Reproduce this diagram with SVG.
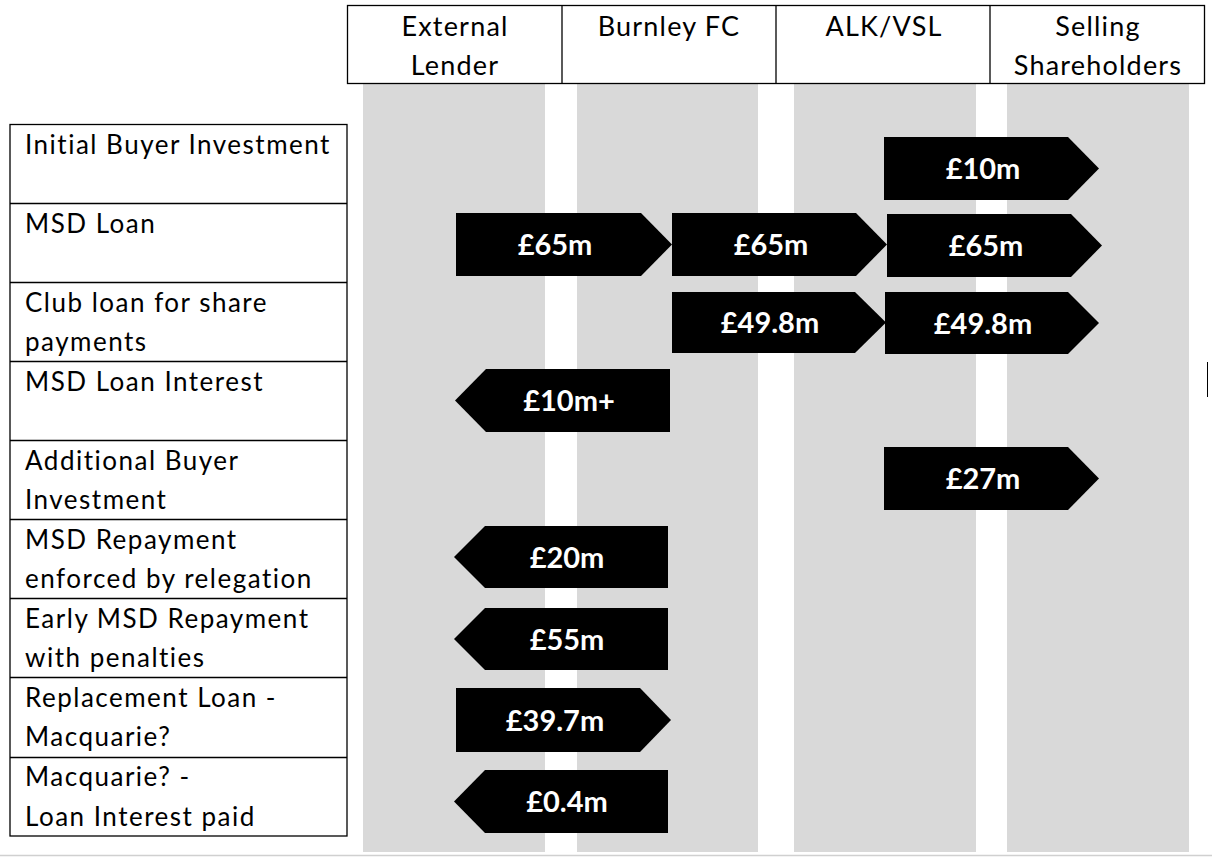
<svg xmlns="http://www.w3.org/2000/svg" width="1212" height="858" viewBox="0 0 1212 858">
<style>
.lane{fill:#d9d9d9}
.box{fill:#fff;stroke:#000;stroke-width:1.3}
.hdr{font-family:Lato,"Open Sans","Liberation Sans",sans-serif;font-size:27px;letter-spacing:1.2px;fill:#000;text-anchor:middle}
.lbl{font-family:Lato,"Open Sans","Liberation Sans",sans-serif;font-size:26px;letter-spacing:1.5px;fill:#000}
.arr{fill:#000}
.amt{font-family:Lato,"Liberation Sans",sans-serif;font-size:29px;font-weight:bold;fill:#fff;text-anchor:middle}
</style>
<rect width="1212" height="858" fill="#fff"/>
<g id="lanes">
<rect class="lane" x="363" y="84" width="182" height="768"/>
<rect class="lane" x="577" y="84" width="181" height="768"/>
<rect class="lane" x="794" y="84" width="182" height="768"/>
<rect class="lane" x="1007" y="84" width="182" height="768"/>
</g>
<g id="header">
<rect class="box" x="347.5" y="5.5" width="857" height="78"/>
<line x1="562" y1="5.5" x2="562" y2="83.5" stroke="#000" stroke-width="1.3"/>
<line x1="776" y1="5.5" x2="776" y2="83.5" stroke="#000" stroke-width="1.3"/>
<line x1="990" y1="5.5" x2="990" y2="83.5" stroke="#000" stroke-width="1.3"/>
<g id="h-lender"><text class="hdr" x="455" y="36">External</text><text class="hdr" x="455" y="75">Lender</text></g>
<g id="h-burnley"><text class="hdr" x="669" y="36">Burnley FC</text></g>
<g id="h-alk"><text class="hdr" x="884" y="36">ALK/VSL</text></g>
<g id="h-sellers"><text class="hdr" x="1098" y="36">Selling</text><text class="hdr" x="1098" y="75">Shareholders</text></g>
</g>
<g id="table">
<rect class="box" x="10" y="124.5" width="337" height="711.5"/>
<g stroke="#000" stroke-width="1.3">
<line x1="10" y1="203.5" x2="347" y2="203.5"/>
<line x1="10" y1="282.5" x2="347" y2="282.5"/>
<line x1="10" y1="361.5" x2="347" y2="361.5"/>
<line x1="10" y1="440.5" x2="347" y2="440.5"/>
<line x1="10" y1="519.5" x2="347" y2="519.5"/>
<line x1="10" y1="598.5" x2="347" y2="598.5"/>
<line x1="10" y1="677.5" x2="347" y2="677.5"/>
<line x1="10" y1="757.5" x2="347" y2="757.5"/>
</g>
<g id="r1"><text class="lbl" x="25" y="154">Initial Buyer Investment</text></g>
<g id="r2"><text class="lbl" x="25" y="233">MSD Loan</text></g>
<g id="r3"><text class="lbl" x="25" y="312">Club loan for share</text><text class="lbl" x="25" y="351">payments</text></g>
<g id="r4"><text class="lbl" x="25" y="391">MSD Loan Interest</text></g>
<g id="r5"><text class="lbl" x="25" y="470">Additional Buyer</text><text class="lbl" x="25" y="509">Investment</text></g>
<g id="r6"><text class="lbl" x="25" y="549">MSD Repayment</text><text class="lbl" x="25" y="588">enforced by relegation</text></g>
<g id="r7"><text class="lbl" x="25" y="628">Early MSD Repayment</text><text class="lbl" x="25" y="667">with penalties</text></g>
<g id="r8"><text class="lbl" x="25" y="707">Replacement Loan -</text><text class="lbl" x="25" y="746">Macquarie?</text></g>
<g id="r9"><text class="lbl" x="25" y="786">Macquarie? -</text><text class="lbl" x="25" y="826">Loan Interest paid</text></g>
</g>
<g id="connectors">
<g id="a1"><polygon class="arr" points="884,137 1068,137 1099,168.5 1068,200 884,200"/><text class="amt" x="983" y="179">£10m</text></g>
<g id="a2"><polygon class="arr" points="456,213 641,213 672,244.5 641,276 456,276"/><text class="amt" x="555" y="255">£65m</text></g>
<g id="a3"><polygon class="arr" points="672,213 856,213 887,244.5 856,276 672,276"/><text class="amt" x="771" y="255">£65m</text></g>
<g id="a4"><polygon class="arr" points="887,214 1071,214 1102,245.5 1071,277 887,277"/><text class="amt" x="986" y="256">£65m</text></g>
<g id="a5"><polygon class="arr" points="672,292 855,292 886,322.5 855,353 672,353"/><text class="amt" x="770" y="333">£49.8m</text></g>
<g id="a6"><polygon class="arr" points="885,292 1068,292 1099,323 1068,354 885,354"/><text class="amt" x="983" y="334">£49.8m</text></g>
<g id="a7"><polygon class="arr" points="670,369 486,369 455,400.5 486,432 670,432"/><text class="amt" x="569" y="411">£10m+</text></g>
<g id="a8"><polygon class="arr" points="884,447 1068,447 1099,478.5 1068,510 884,510"/><text class="amt" x="983" y="489">£27m</text></g>
<g id="a9"><polygon class="arr" points="668,526 485,526 454,557 485,588 668,588"/><text class="amt" x="567" y="568">£20m</text></g>
<g id="a10"><polygon class="arr" points="668,608 485,608 454,639 485,670 668,670"/><text class="amt" x="567" y="650">£55m</text></g>
<g id="a11"><polygon class="arr" points="456,688 640,688 671,720 640,752 456,752"/><text class="amt" x="555" y="731">£39.7m</text></g>
<g id="a12"><polygon class="arr" points="668,770 485,770 454,801.5 485,833 668,833"/><text class="amt" x="567" y="812">£0.4m</text></g>
</g>
<line x1="0" y1="855.5" x2="1212" y2="855.5" stroke="#d0d0d0" stroke-width="1.5"/>
<line x1="1207.5" y1="362" x2="1207.5" y2="397" stroke="#000" stroke-width="1"/>
</svg>
